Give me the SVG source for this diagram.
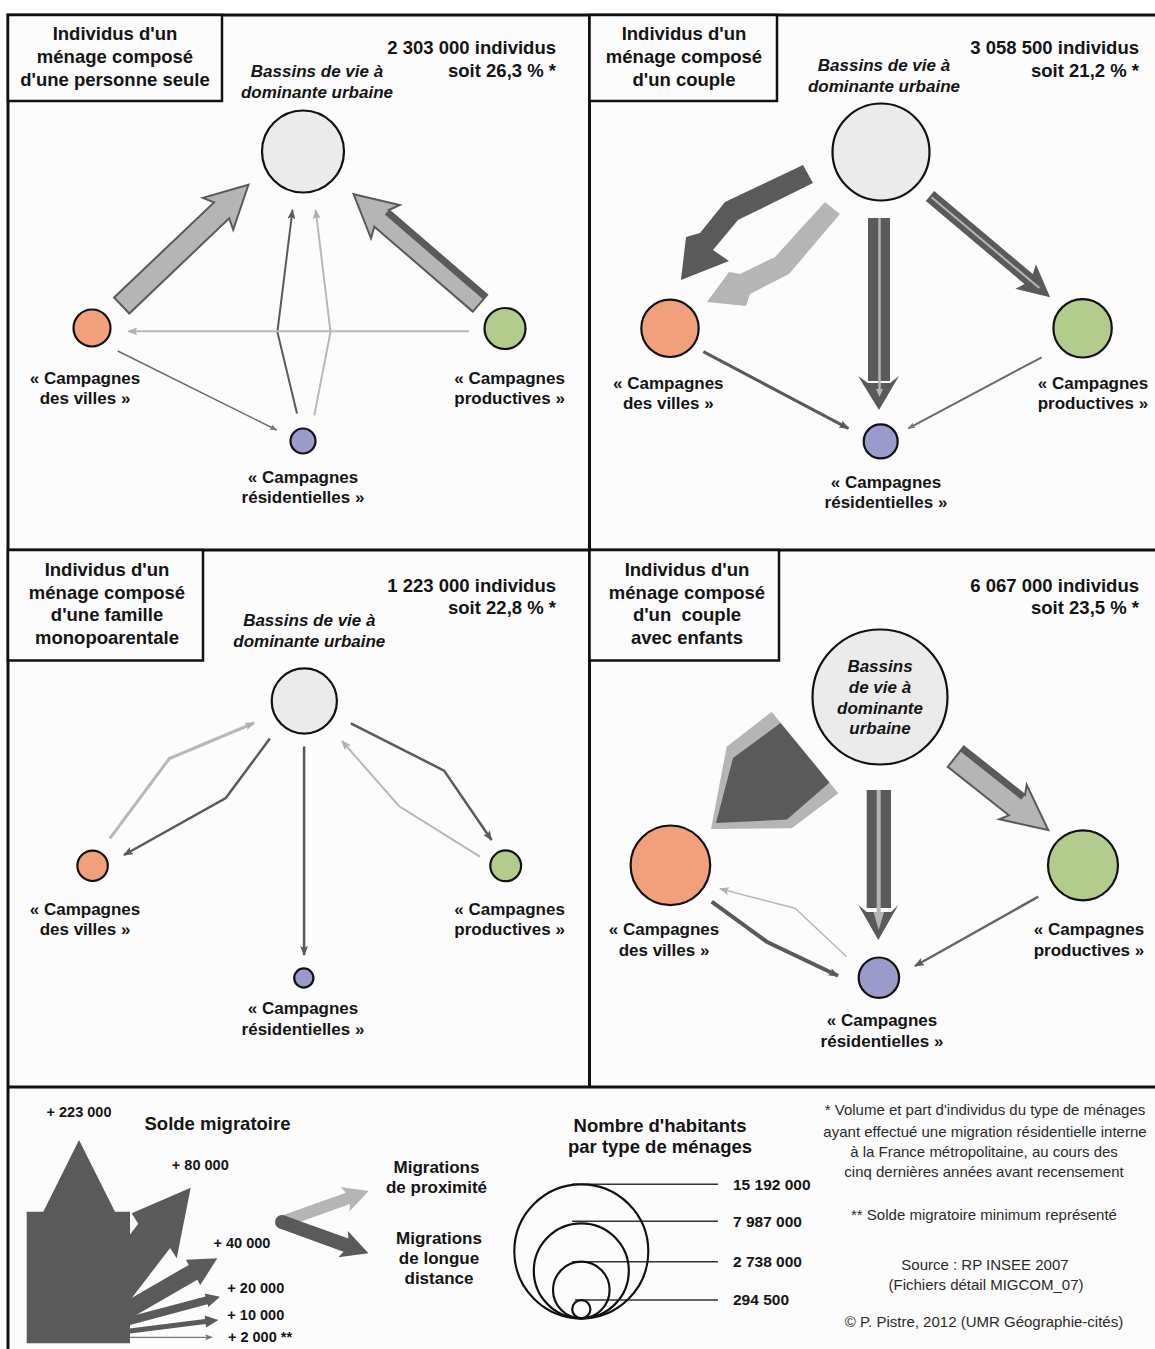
<svg xmlns="http://www.w3.org/2000/svg" width="1155" height="1349" viewBox="0 0 1155 1349">
<style>
text{font-family:"Liberation Sans",Arial,sans-serif;font-weight:bold;fill:#141414;text-anchor:middle}
.h{font-size:18.5px}
.lb{font-size:17px}
.it{font-size:17px;font-style:italic}
.end{text-anchor:end}
.st{text-anchor:start}
.sm{font-size:14.5px}
.val{font-size:15.5px}
.note{font-size:15px;font-weight:normal;fill:#2a2a2a}
.box{fill:#fcfcfc;stroke:#111;stroke-width:2.5}
.main{fill:#ebebeb;stroke:#111;stroke-width:2.2}
.or{fill:#f0a07b;stroke:#111;stroke-width:2.2}
.gr{fill:#b3cc8d;stroke:#111;stroke-width:2.2}
.bl{fill:#9a9acb;stroke:#111;stroke-width:2.2}
.lt{fill:#b5b5b5}
.dk{fill:#5a5a5a}
.ltl{fill:#b5b5b5;stroke:#5a5a5a;stroke-width:2;stroke-linejoin:miter}
.ld{fill:none;stroke:#5a5a5a}
.ll{fill:none;stroke:#b8b8b8}
</style>
<defs>
<marker id="md" viewBox="0 0 10 8" refX="9" refY="4" markerWidth="10" markerHeight="8" markerUnits="userSpaceOnUse" orient="auto"><path d="M0,0 L10,4 L0,8 L2,4 Z" fill="#5a5a5a"/></marker>
<marker id="ml" viewBox="0 0 10 8" refX="9" refY="4" markerWidth="10" markerHeight="8" markerUnits="userSpaceOnUse" orient="auto"><path d="M0,0 L10,4 L0,8 L2,4 Z" fill="#b0b0b0"/></marker>
<marker id="mg" viewBox="0 0 10 8" refX="9" refY="4" markerWidth="8" markerHeight="6" markerUnits="userSpaceOnUse" orient="auto"><path d="M0,0 L10,4 L0,8 L2,4 Z" fill="#777"/></marker>
</defs>
<rect x="0" y="0" width="1155" height="1349" fill="#ffffff"/>
<rect x="8" y="15" width="1160" height="1345" fill="#fcfcfc" stroke="#111" stroke-width="3"/>
<g id="frame">
<line x1="589.5" y1="15" x2="589.5" y2="1087" stroke="#111" stroke-width="3"/>
<line x1="8" y1="550" x2="1160" y2="550" stroke="#111" stroke-width="3"/>
<line x1="8" y1="1087" x2="1160" y2="1087" stroke="#111" stroke-width="3"/>
</g>

<!-- Panel 1 -->
<g id="p1-title">
<rect class="box" x="8" y="15" width="214" height="86"/>
<text class="h" x="115" y="39.5">Individus d'un</text>
<text class="h" x="115" y="62.5">ménage composé</text>
<text class="h" x="115" y="85.5">d'une personne seule</text>
</g>
<g id="p1-count">
<text class="h end" x="556" y="53.5">2 303 000 individus</text>
<text class="h end" x="556" y="77">soit 26,3 % *</text>
</g>
<g id="p1-connectors">
<path class="ltl" transform="translate(121.7,305.5) rotate(-43.6)" d="M0,-11 L138,-11 L133,-22 L175,0 L133,22 L138,11 L0,11 Z"/>
<g transform="translate(480,303.3) rotate(-139.2)">
<path class="ltl" d="M0,-11 L130,-11 L125,-22 L167,0 L125,22 L130,11 L0,11 Z"/>
<path class="dk" d="M0,5 L130,5 L130,11 L0,11 Z"/>
</g>
<polyline class="ld" stroke-width="2" points="297,413.6 277.4,332 292.5,210" marker-end="url(#md)"/>
<polyline class="ll" stroke-width="2" points="314.3,415.4 330.5,332 315.7,210" marker-end="url(#ml)"/>
<line class="ll" stroke-width="2" x1="469" y1="331.3" x2="128.3" y2="331.3" marker-end="url(#ml)"/>
<line stroke="#6a6a6a" stroke-width="1.5" x1="117.8" y1="351" x2="276.6" y2="430" marker-end="url(#mg)"/>
</g>
<g id="p1-urbain">
<circle class="main" cx="303" cy="151.5" r="41"/>
<text class="it" x="317" y="76.5">Bassins de vie à</text>
<text class="it" x="317" y="97.5">dominante urbaine</text>
</g>
<g id="p1-villes">
<circle class="or" cx="92" cy="328" r="18.5"/>
<text class="lb" x="85" y="384">« Campagnes</text>
<text class="lb" x="85" y="403.5">des villes »</text>
</g>
<g id="p1-productives">
<circle class="gr" cx="505" cy="328.5" r="20.5"/>
<text class="lb" x="509.6" y="384">« Campagnes</text>
<text class="lb" x="509.6" y="403.5">productives »</text>
</g>
<g id="p1-residentielles">
<circle class="bl" cx="303" cy="441" r="12.5"/>
<text class="lb" x="303" y="483">« Campagnes</text>
<text class="lb" x="303" y="503">résidentielles »</text>
</g>

<!-- Panel 2 -->
<g id="p2-title">
<rect class="box" x="589.5" y="15" width="187.5" height="86"/>
<text class="h" x="684" y="39.5">Individus d'un</text>
<text class="h" x="684" y="62.8">ménage composé</text>
<text class="h" x="684" y="85.7">d'un couple</text>
</g>
<g id="p2-count">
<text class="h end" x="1139" y="53.5">3 058 500 individus</text>
<text class="h end" x="1139" y="77">soit 21,2 % *</text>
</g>
<g id="p2-connectors">
<polygon class="dk" points="803,165 725,202 700,233 686,237 681,280 729,261 713,250 738,220 813,183"/>
<polygon class="lt" points="825,202 775,257 740,274 729,272 707,302 746,306 750,294 789,274 840,214"/>
<rect class="dk" x="868" y="218" width="22" height="163"/>
<polygon class="dk" points="858,376 879,410 899,376 890,383 868,383"/>
<line x1="879.5" y1="218" x2="879.5" y2="392" stroke="#b5b5b5" stroke-width="2.5"/>
<polygon points="876,389 879.5,397 883,389" fill="#b5b5b5"/>
<g transform="translate(930,196) rotate(40.1)">
<path class="dk" d="M0,-6.5 L129,-6.5 L125,-16 L157,0 L125,16 L129,6.5 L0,6.5 Z"/>
<path d="M2,0 L143,0" stroke="#b5b5b5" stroke-width="2"/>
</g>
<line class="ld" stroke-width="3" x1="703.3" y1="351.7" x2="848.3" y2="428.3" marker-end="url(#md)"/>
<line stroke="#6a6a6a" stroke-width="2" x1="1041.7" y1="357.3" x2="908.3" y2="428.3" marker-end="url(#mg)"/>
</g>
<g id="p2-urbain">
<circle class="main" cx="881" cy="152" r="48.5"/>
<text class="it" x="884" y="71.3">Bassins de vie à</text>
<text class="it" x="884" y="92">dominante urbaine</text>
</g>
<g id="p2-villes">
<circle class="or" cx="670" cy="328.3" r="28.7"/>
<text class="lb" x="668.3" y="389">« Campagnes</text>
<text class="lb" x="668.3" y="409">des villes »</text>
</g>
<g id="p2-productives">
<circle class="gr" cx="1082.6" cy="328.3" r="29.2"/>
<text class="lb" x="1093" y="389">« Campagnes</text>
<text class="lb" x="1093" y="409">productives »</text>
</g>
<g id="p2-residentielles">
<circle class="bl" cx="880.7" cy="441.4" r="17"/>
<text class="lb" x="886" y="487.7">« Campagnes</text>
<text class="lb" x="886" y="508">résidentielles »</text>
</g>

<!-- Panel 3 -->
<g id="p3-title">
<rect class="box" x="8" y="550" width="195" height="110.5"/>
<text class="h" x="107" y="576.3">Individus d'un</text>
<text class="h" x="107" y="599">ménage composé</text>
<text class="h" x="107" y="621.4">d'une famille</text>
<text class="h" x="107" y="643.8">monopoarentale</text>
</g>
<g id="p3-count">
<text class="h end" x="556" y="591.8">1 223 000 individus</text>
<text class="h end" x="556" y="613.5">soit 22,8 % *</text>
</g>
<g id="p3-connectors">
<polyline class="ll" stroke-width="3" points="109.9,838.4 169.4,758.5 254,723" marker-end="url(#ml)"/>
<polyline class="ld" stroke-width="2.5" points="269.9,738.5 225.8,798.1 124,855" marker-end="url(#md)"/>
<line class="ld" stroke-width="2.5" x1="304.1" y1="746.4" x2="304.1" y2="955" marker-end="url(#md)"/>
<polyline class="ld" stroke-width="2.5" points="350.8,723.4 444.1,770.6 491.5,840" marker-end="url(#md)"/>
<polyline class="ll" stroke-width="2" points="479.9,856.6 398.9,806 342,741" marker-end="url(#ml)"/>
</g>
<g id="p3-urbain">
<circle class="main" cx="304.3" cy="701" r="32.6"/>
<text class="it" x="309.3" y="626">Bassins de vie à</text>
<text class="it" x="309.3" y="647.4">dominante urbaine</text>
</g>
<g id="p3-villes">
<circle class="or" cx="92.6" cy="865.8" r="15.2"/>
<text class="lb" x="85" y="915">« Campagnes</text>
<text class="lb" x="85" y="935">des villes »</text>
</g>
<g id="p3-productives">
<circle class="gr" cx="505.7" cy="865.8" r="15.4"/>
<text class="lb" x="509.6" y="915">« Campagnes</text>
<text class="lb" x="509.6" y="935">productives »</text>
</g>
<g id="p3-residentielles">
<circle class="bl" cx="303.8" cy="978" r="9.6"/>
<text class="lb" x="303" y="1014.2">« Campagnes</text>
<text class="lb" x="303" y="1034.8">résidentielles »</text>
</g>

<!-- Panel 4 -->
<g id="p4-title">
<rect class="box" x="589.5" y="550" width="189.5" height="110.5"/>
<text class="h" x="687" y="576.3">Individus d'un</text>
<text class="h" x="687" y="599">ménage composé</text>
<text class="h" x="687" y="621.4">d'un &#160;couple</text>
<text class="h" x="687" y="643.8">avec enfants</text>
</g>
<g id="p4-count">
<text class="h end" x="1139" y="591.8">6 067 000 individus</text>
<text class="h end" x="1139" y="613.5">soit 23,5 % *</text>
</g>
<g id="p4-connectors">
<polygon class="lt" points="771.7,711.7 838.3,793.3 791.7,828.3 711,829 726.7,746.7"/>
<polygon class="dk" points="780.5,723 829.5,782.5 787,819.5 716,823 733,758"/>
<rect class="dk" x="866.7" y="790" width="24.3" height="118"/>
<polygon class="dk" points="858.3,905 878.3,940 898.3,905 891,912 866.7,912"/>
<rect x="876.7" y="790" width="4" height="125" fill="#b5b5b5"/>
<polygon points="873.5,912 878.7,930 884,912" fill="#b5b5b5"/>
<g transform="translate(955.8,756.7) rotate(38.4)">
<path class="ltl" d="M0,-13 L78,-13 L73,-22 L118,0 L73,22 L78,13 L0,13 Z"/>
<path class="dk" d="M0,-13 L78,-13 L78,-7 L0,-7 Z"/>
</g>
<polyline class="ld" stroke-width="4" points="711.7,901.7 766.7,941.7 838,975.7" marker-end="url(#md)"/>
<polyline class="ll" stroke-width="1.5" points="846.7,956.7 795,908.3 720,888.8" marker-end="url(#ml)"/>
<line stroke="#666" stroke-width="2.5" x1="1038.3" y1="896.7" x2="915" y2="966" marker-end="url(#md)"/>
</g>
<g id="p4-urbain">
<circle class="main" cx="880" cy="697" r="67.5"/>
<text class="it" x="880" y="672.2">Bassins</text>
<text class="it" x="880" y="692.9">de vie à</text>
<text class="it" x="880" y="713.5">dominante</text>
<text class="it" x="880" y="734.2">urbaine</text>
</g>
<g id="p4-villes">
<circle class="or" cx="670.4" cy="865.3" r="39.8"/>
<text class="lb" x="664" y="935">« Campagnes</text>
<text class="lb" x="664" y="955.6">des villes »</text>
</g>
<g id="p4-productives">
<circle class="gr" cx="1083" cy="865.3" r="35"/>
<text class="lb" x="1089" y="935">« Campagnes</text>
<text class="lb" x="1089" y="955.6">productives »</text>
</g>
<g id="p4-residentielles">
<circle class="bl" cx="878.9" cy="977.7" r="20.2"/>
<text class="lb" x="882" y="1026.2">« Campagnes</text>
<text class="lb" x="882" y="1046.9">résidentielles »</text>
</g>

<!-- Legend -->
<g id="legend-solde">
<text class="h" x="217.5" y="1129.8">Solde migratoire</text>
<path class="dk" d="M26.7,1343.3 L26.7,1211.7 L43.3,1211.7 L79,1140 L115,1211.7 L130,1211.7 L130,1343.3 Z"/>
<polygon class="dk" points="99,1275 138.3,1223.7 131.7,1213.3 190.7,1187.7 176.7,1258.3 170.1,1247.9 128,1303"/>
<polygon class="dk" points="119.5,1304.9 188.8,1264.9 185.9,1259.7 217.3,1258.3 200.3,1284.9 197.3,1279.7 128,1319.7"/>
<polygon class="dk" points="128,1317 205.5,1296.4 204.7,1293.5 220,1296.7 208.3,1307.1 207.5,1304.2 130,1325"/>
<polygon class="dk" points="125.7,1328.9 205.1,1319.1 204.7,1315.6 218.3,1320 206.1,1327.6 205.7,1324.1 126.3,1333.9"/>
<line x1="130" y1="1337.3" x2="212" y2="1337.3" stroke="#777" stroke-width="1.2" marker-end="url(#mg)"/>
<text class="sm" x="79" y="1116.7">+ 223 000</text>
<text class="sm" x="200.3" y="1170">+ 80 000</text>
<text class="sm" x="242" y="1248.3">+ 40 000</text>
<text class="sm" x="255.8" y="1293.3">+ 20 000</text>
<text class="sm" x="255.8" y="1320">+ 10 000</text>
<text class="sm" x="260" y="1341.7">+ 2 000 **</text>
</g>
<g id="legend-types">
<path class="lt" transform="translate(282,1222) rotate(-19.76)" d="M0,-6 L70,-6 L67,-13 L92,0 L67,13 L70,6 L0,6 Z"/>
<path class="dk" transform="translate(282,1222) rotate(19.93)" d="M0,-7 L68,-7 L65,-14 L92,0 L65,14 L68,7 L0,7 Z"/>
<circle class="dk" cx="282" cy="1222" r="7"/>
<text class="lb" x="436.5" y="1172.7">Migrations</text>
<text class="lb" x="436.5" y="1192.7">de proximité</text>
<text class="lb" x="439" y="1243.7">Migrations</text>
<text class="lb" x="439" y="1264.3">de longue</text>
<text class="lb" x="439" y="1284.3">distance</text>
</g>
<g id="legend-circles">
<text class="h" x="660" y="1131.5">Nombre d'habitants</text>
<text class="h" x="660" y="1153.2">par type de ménages</text>
<g stroke="#333" stroke-width="1.6">
<line x1="572" y1="1184.3" x2="718" y2="1184.3"/>
<line x1="572" y1="1221.3" x2="718" y2="1221.3"/>
<line x1="572" y1="1261.7" x2="718" y2="1261.7"/>
<line x1="575" y1="1300" x2="718" y2="1300"/>
</g>
<g fill="none" stroke="#111" stroke-width="2.2">
<circle cx="581.3" cy="1251.3" r="67"/>
<circle cx="581.3" cy="1270.8" r="47.5"/>
<circle cx="581.3" cy="1290" r="28.3"/>
<circle cx="581.3" cy="1309.2" r="9.1"/>
</g>
<text class="val st" x="733" y="1189.7">15 192 000</text>
<text class="val st" x="733" y="1226.7">7 987 000</text>
<text class="val st" x="733" y="1267.1">2 738 000</text>
<text class="val st" x="733" y="1305.4">294 500</text>
</g>
<g id="legend-notes">
<text class="note" x="985" y="1115">* Volume et part d'individus du type de ménages</text>
<text class="note" x="985" y="1137">ayant effectué une migration résidentielle interne</text>
<text class="note" x="984" y="1157">à la France métropolitaine, au cours des</text>
<text class="note" x="984" y="1177">cinq dernières années avant recensement</text>
<text class="note" x="984" y="1220">** Solde migratoire minimum représenté</text>
<text class="note" x="985" y="1270">Source : RP INSEE 2007</text>
<text class="note" x="986" y="1290">(Fichiers détail MIGCOM_07)</text>
<text class="note" x="984" y="1327">© P. Pistre, 2012 (UMR Géographie-cités)</text>
</g>
</svg>
